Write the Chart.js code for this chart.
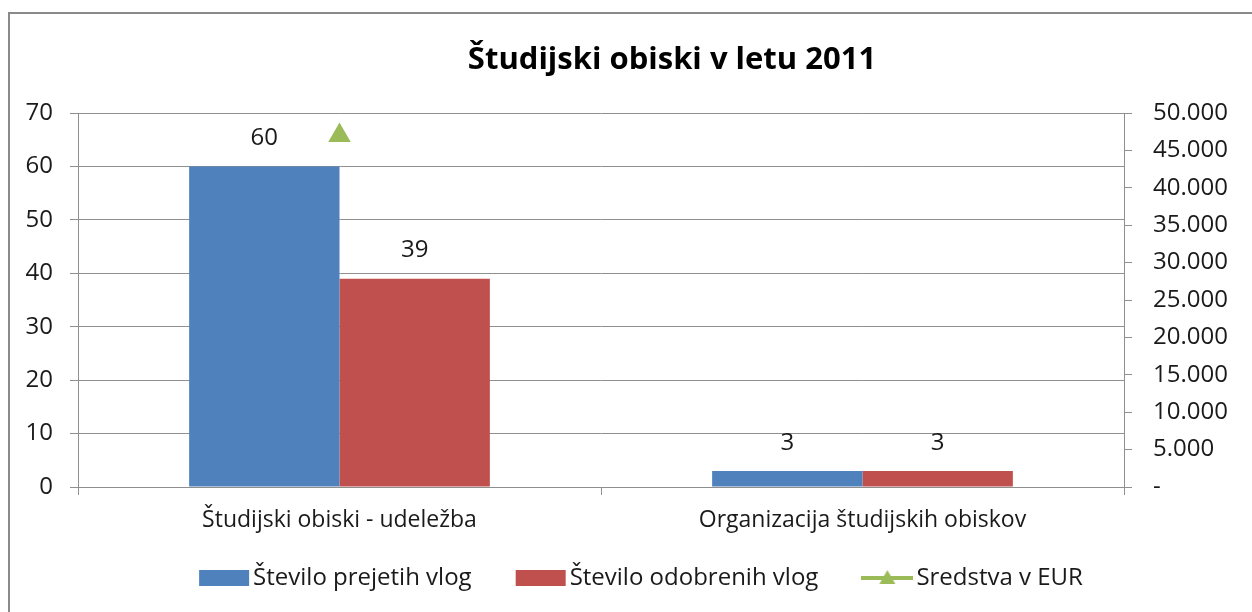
<!DOCTYPE html>
<html>
<head>
<meta charset="utf-8">
<script src="https://cdn.jsdelivr.net/npm/chart.js@4/dist/chart.umd.min.js"></script>
<style>
  html, body { margin: 0; padding: 0; background: #fff; overflow: hidden; }
  body { width: 1252px; height: 612px; position: relative; }
  .frame { position: absolute; left: 8px; top: 12px; width: 1340px; height: 640px; border: 2px solid #8a8a8a; box-sizing: border-box; }
  #chart { position: absolute; left: 10px; top: 14px; }
</style>
</head>
<body>
<div class="frame"></div>
<canvas id="chart" width="1324" height="619"></canvas>
<script>
const categories = ['Študijski obiski - udeležba', 'Organizacija študijskih obiskov'];
const prejete = [60, 3];
const odobrene = [39, 3];
const sredstva = [47000, null];
const seriesNames = ['Število prejetih vlog', 'Število odobrenih vlog', 'Sredstva v EUR'];
const leftTicks = { min: 0, max: 70, step: 10 };
const rightTicks = { min: 0, max: 50000, step: 5000 };

const FONT = '"Open Sans"';
const textColor = '#1a1a1a';
const gridColor = '#8f8f8f';
const blue = '#4F81BD';
const red = '#C0504D';
const green = '#9BBB59';

// legend swatches drawn to small canvases so they can act as point styles
function swatch(color, kind) {
  const c = document.createElement('canvas');
  c.width = 52; c.height = 18;
  const g = c.getContext('2d');
  g.fillStyle = color;
  if (kind === 'bar') {
    g.fillRect(1, 1, 50, 16);
  } else {
    g.fillRect(0, 7, 52, 4);
    g.beginPath();
    g.moveTo(26, 1); g.lineTo(34, 15); g.lineTo(18, 15); g.closePath();
    g.fill();
  }
  return c;
}
const swatches = [swatch(blue, 'bar'), swatch(red, 'bar'), swatch(green, 'line')];

const thousands = v => v === 0 ? '-' : String(v).replace(/\B(?=(\d{3})+(?!\d))/g, '.');

const barLabels = {
  id: 'barLabels',
  afterDatasetsDraw(chart) {
    const ctx = chart.ctx;
    ctx.save();
    ctx.font = '24px ' + FONT;
    ctx.fillStyle = textColor;
    ctx.textAlign = 'center';
    ctx.textBaseline = 'middle';
    chart.data.datasets.forEach((ds, i) => {
      if (ds.type === 'line') return;
      chart.getDatasetMeta(i).data.forEach((bar, j) => {
        ctx.fillText(String(ds.data[j]), bar.x, bar.y - 28);
      });
    });
    ctx.restore();
  }
};

// legend in the original sits a bit left of the title's centre and tucked up under the axis labels
const shiftLegend = {
  id: 'shiftLegend',
  afterLayout(chart) {
    const l = chart.legend;
    l.left -= 27; l.right -= 27;
    l.top -= 33; l.bottom -= 33;
  }
};

new Chart(document.getElementById('chart'), {
  data: {
    labels: categories,
    datasets: [
      { type: 'bar', label: seriesNames[0], data: prejete, backgroundColor: blue, yAxisID: 'y',
        categoryPercentage: 0.575, barPercentage: 1 },
      { type: 'bar', label: seriesNames[1], data: odobrene, backgroundColor: red, yAxisID: 'y',
        categoryPercentage: 0.575, barPercentage: 1 },
      { type: 'line', label: seriesNames[2], data: sredstva, yAxisID: 'y1', showLine: false,
        pointStyle: 'triangle', pointRadius: 13, backgroundColor: green, borderColor: green, borderWidth: 0 }
    ]
  },
  options: {
    responsive: false,
    animation: false,
    layout: { padding: 0 },
    scales: {
      x: {
        grid: { drawOnChartArea: false, color: gridColor, tickLength: 8, offset: true },
        border: { color: gridColor },
        ticks: { color: textColor, font: { family: FONT, size: 23 }, padding: 12, maxRotation: 0 },
        afterFit(s) { s.height = 60; }
      },
      y: {
        position: 'left',
        min: leftTicks.min, max: leftTicks.max,
        ticks: { stepSize: leftTicks.step, color: textColor, font: { family: FONT, size: 24 }, padding: 17 },
        grid: { color: gridColor, tickLength: 8 },
        border: { color: gridColor },
        afterFit(s) { s.width = 68; }
      },
      y1: {
        position: 'right',
        min: rightTicks.min, max: rightTicks.max,
        ticks: { stepSize: rightTicks.step, color: textColor, font: { family: FONT, size: 24 }, padding: 21,
          callback: v => thousands(v) },
        grid: { drawOnChartArea: false, color: gridColor, tickLength: 8 },
        border: { color: gridColor },
        afterFit(s) { s.width = 210; }
      }
    },
    plugins: {
      title: {
        display: true,
        text: 'Študijski obiski v letu 2011',
        color: '#000',
        font: { family: FONT, size: 31, weight: 'bold' },
        padding: { top: 27.4, bottom: 34.4 }
      },
      legend: {
        position: 'bottom',
        labels: {
          color: textColor,
          font: { family: FONT, size: 24 },
          usePointStyle: true,
          pointStyleWidth: 34,
          padding: 52,
          generateLabels: chart => chart.data.datasets.map((ds, i) => ({
            text: ds.label, pointStyle: swatches[i], fillStyle: ds.backgroundColor,
            strokeStyle: ds.backgroundColor, lineWidth: 0, datasetIndex: i, fontColor: textColor
          }))
        }
      },
      tooltip: { enabled: false }
    }
  },
  plugins: [barLabels, shiftLegend]
});
</script>
</body>
</html>
